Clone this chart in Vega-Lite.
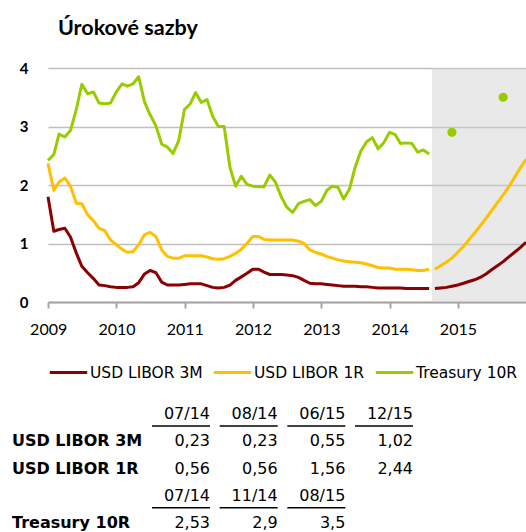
{
  "$schema": "https://vega.github.io/schema/vega-lite/v6.json",
  "background": "white",
  "padding": {"left": 12, "top": 17, "right": 0, "bottom": 0},
  "spacing": 20,
  "resolve": {"legend": {"color": "independent"}, "scale": {"color": "independent"}},
  "config": {
    "view": {"stroke": null},
    "title": {"font": "Lato", "fontSize": 21.5, "fontWeight": "bold", "color": "#000000"}
  },
  "datasets": {
    "hist": [
      {"d": "2008-12-31", "USD LIBOR 3M": 1.80, "USD LIBOR 1R": 2.37, "Treasury 10R": 2.42},
      {"d": "2009-01-31", "USD LIBOR 3M": 1.21, "USD LIBOR 1R": 1.91, "Treasury 10R": 2.52},
      {"d": "2009-02-28", "USD LIBOR 3M": 1.24, "USD LIBOR 1R": 2.05, "Treasury 10R": 2.87},
      {"d": "2009-03-31", "USD LIBOR 3M": 1.26, "USD LIBOR 1R": 2.12, "Treasury 10R": 2.82},
      {"d": "2009-04-30", "USD LIBOR 3M": 1.11, "USD LIBOR 1R": 1.98, "Treasury 10R": 2.93},
      {"d": "2009-05-31", "USD LIBOR 3M": 0.84, "USD LIBOR 1R": 1.69, "Treasury 10R": 3.29},
      {"d": "2009-06-30", "USD LIBOR 3M": 0.61, "USD LIBOR 1R": 1.68, "Treasury 10R": 3.72},
      {"d": "2009-07-31", "USD LIBOR 3M": 0.50, "USD LIBOR 1R": 1.49, "Treasury 10R": 3.56},
      {"d": "2009-08-31", "USD LIBOR 3M": 0.40, "USD LIBOR 1R": 1.39, "Treasury 10R": 3.59},
      {"d": "2009-09-30", "USD LIBOR 3M": 0.29, "USD LIBOR 1R": 1.26, "Treasury 10R": 3.40},
      {"d": "2009-10-31", "USD LIBOR 3M": 0.28, "USD LIBOR 1R": 1.22, "Treasury 10R": 3.39},
      {"d": "2009-11-30", "USD LIBOR 3M": 0.26, "USD LIBOR 1R": 1.06, "Treasury 10R": 3.40},
      {"d": "2009-12-31", "USD LIBOR 3M": 0.25, "USD LIBOR 1R": 0.98, "Treasury 10R": 3.59},
      {"d": "2010-01-31", "USD LIBOR 3M": 0.25, "USD LIBOR 1R": 0.90, "Treasury 10R": 3.73},
      {"d": "2010-02-28", "USD LIBOR 3M": 0.25, "USD LIBOR 1R": 0.85, "Treasury 10R": 3.69},
      {"d": "2010-03-31", "USD LIBOR 3M": 0.26, "USD LIBOR 1R": 0.86, "Treasury 10R": 3.73},
      {"d": "2010-04-30", "USD LIBOR 3M": 0.33, "USD LIBOR 1R": 0.98, "Treasury 10R": 3.85},
      {"d": "2010-05-31", "USD LIBOR 3M": 0.48, "USD LIBOR 1R": 1.15, "Treasury 10R": 3.42},
      {"d": "2010-06-30", "USD LIBOR 3M": 0.54, "USD LIBOR 1R": 1.19, "Treasury 10R": 3.20},
      {"d": "2010-07-31", "USD LIBOR 3M": 0.50, "USD LIBOR 1R": 1.12, "Treasury 10R": 3.01},
      {"d": "2010-08-31", "USD LIBOR 3M": 0.34, "USD LIBOR 1R": 0.89, "Treasury 10R": 2.70},
      {"d": "2010-09-30", "USD LIBOR 3M": 0.29, "USD LIBOR 1R": 0.78, "Treasury 10R": 2.65},
      {"d": "2010-10-31", "USD LIBOR 3M": 0.29, "USD LIBOR 1R": 0.75, "Treasury 10R": 2.54},
      {"d": "2010-11-30", "USD LIBOR 3M": 0.29, "USD LIBOR 1R": 0.75, "Treasury 10R": 2.76},
      {"d": "2010-12-31", "USD LIBOR 3M": 0.30, "USD LIBOR 1R": 0.79, "Treasury 10R": 3.29},
      {"d": "2011-01-31", "USD LIBOR 3M": 0.31, "USD LIBOR 1R": 0.79, "Treasury 10R": 3.39},
      {"d": "2011-02-28", "USD LIBOR 3M": 0.31, "USD LIBOR 1R": 0.79, "Treasury 10R": 3.58},
      {"d": "2011-03-31", "USD LIBOR 3M": 0.31, "USD LIBOR 1R": 0.79, "Treasury 10R": 3.41},
      {"d": "2011-04-30", "USD LIBOR 3M": 0.28, "USD LIBOR 1R": 0.77, "Treasury 10R": 3.46},
      {"d": "2011-05-31", "USD LIBOR 3M": 0.25, "USD LIBOR 1R": 0.74, "Treasury 10R": 3.17},
      {"d": "2011-06-30", "USD LIBOR 3M": 0.24, "USD LIBOR 1R": 0.73, "Treasury 10R": 3.00},
      {"d": "2011-07-31", "USD LIBOR 3M": 0.25, "USD LIBOR 1R": 0.74, "Treasury 10R": 3.00},
      {"d": "2011-08-31", "USD LIBOR 3M": 0.29, "USD LIBOR 1R": 0.78, "Treasury 10R": 2.30},
      {"d": "2011-09-30", "USD LIBOR 3M": 0.37, "USD LIBOR 1R": 0.83, "Treasury 10R": 1.98},
      {"d": "2011-10-31", "USD LIBOR 3M": 0.43, "USD LIBOR 1R": 0.90, "Treasury 10R": 2.15},
      {"d": "2011-11-30", "USD LIBOR 3M": 0.49, "USD LIBOR 1R": 1.00, "Treasury 10R": 2.01},
      {"d": "2011-12-31", "USD LIBOR 3M": 0.56, "USD LIBOR 1R": 1.12, "Treasury 10R": 1.98},
      {"d": "2012-01-31", "USD LIBOR 3M": 0.56, "USD LIBOR 1R": 1.12, "Treasury 10R": 1.97},
      {"d": "2012-02-29", "USD LIBOR 3M": 0.51, "USD LIBOR 1R": 1.07, "Treasury 10R": 1.97},
      {"d": "2012-03-31", "USD LIBOR 3M": 0.47, "USD LIBOR 1R": 1.06, "Treasury 10R": 2.17},
      {"d": "2012-04-30", "USD LIBOR 3M": 0.47, "USD LIBOR 1R": 1.06, "Treasury 10R": 2.05},
      {"d": "2012-05-31", "USD LIBOR 3M": 0.47, "USD LIBOR 1R": 1.06, "Treasury 10R": 1.80},
      {"d": "2012-06-30", "USD LIBOR 3M": 0.46, "USD LIBOR 1R": 1.06, "Treasury 10R": 1.62},
      {"d": "2012-07-31", "USD LIBOR 3M": 0.45, "USD LIBOR 1R": 1.06, "Treasury 10R": 1.53},
      {"d": "2012-08-31", "USD LIBOR 3M": 0.42, "USD LIBOR 1R": 1.04, "Treasury 10R": 1.68},
      {"d": "2012-09-30", "USD LIBOR 3M": 0.37, "USD LIBOR 1R": 1.00, "Treasury 10R": 1.72},
      {"d": "2012-10-31", "USD LIBOR 3M": 0.32, "USD LIBOR 1R": 0.89, "Treasury 10R": 1.75},
      {"d": "2012-11-30", "USD LIBOR 3M": 0.31, "USD LIBOR 1R": 0.85, "Treasury 10R": 1.65},
      {"d": "2012-12-31", "USD LIBOR 3M": 0.31, "USD LIBOR 1R": 0.82, "Treasury 10R": 1.72},
      {"d": "2013-01-31", "USD LIBOR 3M": 0.30, "USD LIBOR 1R": 0.78, "Treasury 10R": 1.91},
      {"d": "2013-02-28", "USD LIBOR 3M": 0.29, "USD LIBOR 1R": 0.75, "Treasury 10R": 1.98},
      {"d": "2013-03-31", "USD LIBOR 3M": 0.28, "USD LIBOR 1R": 0.72, "Treasury 10R": 1.96},
      {"d": "2013-04-30", "USD LIBOR 3M": 0.27, "USD LIBOR 1R": 0.70, "Treasury 10R": 1.76},
      {"d": "2013-05-31", "USD LIBOR 3M": 0.27, "USD LIBOR 1R": 0.69, "Treasury 10R": 1.93},
      {"d": "2013-06-30", "USD LIBOR 3M": 0.27, "USD LIBOR 1R": 0.68, "Treasury 10R": 2.30},
      {"d": "2013-07-31", "USD LIBOR 3M": 0.26, "USD LIBOR 1R": 0.67, "Treasury 10R": 2.58},
      {"d": "2013-08-31", "USD LIBOR 3M": 0.26, "USD LIBOR 1R": 0.65, "Treasury 10R": 2.74},
      {"d": "2013-09-30", "USD LIBOR 3M": 0.25, "USD LIBOR 1R": 0.62, "Treasury 10R": 2.81},
      {"d": "2013-10-31", "USD LIBOR 3M": 0.24, "USD LIBOR 1R": 0.59, "Treasury 10R": 2.62},
      {"d": "2013-11-30", "USD LIBOR 3M": 0.24, "USD LIBOR 1R": 0.58, "Treasury 10R": 2.72},
      {"d": "2013-12-31", "USD LIBOR 3M": 0.24, "USD LIBOR 1R": 0.58, "Treasury 10R": 2.90},
      {"d": "2014-01-31", "USD LIBOR 3M": 0.24, "USD LIBOR 1R": 0.56, "Treasury 10R": 2.86},
      {"d": "2014-02-28", "USD LIBOR 3M": 0.24, "USD LIBOR 1R": 0.56, "Treasury 10R": 2.71},
      {"d": "2014-03-31", "USD LIBOR 3M": 0.23, "USD LIBOR 1R": 0.56, "Treasury 10R": 2.72},
      {"d": "2014-04-30", "USD LIBOR 3M": 0.23, "USD LIBOR 1R": 0.55, "Treasury 10R": 2.71},
      {"d": "2014-05-31", "USD LIBOR 3M": 0.23, "USD LIBOR 1R": 0.54, "Treasury 10R": 2.56},
      {"d": "2014-06-30", "USD LIBOR 3M": 0.23, "USD LIBOR 1R": 0.54, "Treasury 10R": 2.60},
      {"d": "2014-07-31", "USD LIBOR 3M": 0.23, "USD LIBOR 1R": 0.56, "Treasury 10R": 2.53}
    ],
    "fcst": [
      {"d": "2014-08-31", "USD LIBOR 3M": 0.23, "USD LIBOR 1R": 0.56},
      {"d": "2014-09-30", "USD LIBOR 3M": 0.24, "USD LIBOR 1R": 0.62},
      {"d": "2014-10-31", "USD LIBOR 3M": 0.25, "USD LIBOR 1R": 0.68},
      {"d": "2014-11-30", "USD LIBOR 3M": 0.27, "USD LIBOR 1R": 0.75},
      {"d": "2014-12-31", "USD LIBOR 3M": 0.29, "USD LIBOR 1R": 0.85},
      {"d": "2015-01-31", "USD LIBOR 3M": 0.32, "USD LIBOR 1R": 0.95},
      {"d": "2015-02-28", "USD LIBOR 3M": 0.35, "USD LIBOR 1R": 1.06},
      {"d": "2015-03-31", "USD LIBOR 3M": 0.38, "USD LIBOR 1R": 1.18},
      {"d": "2015-04-30", "USD LIBOR 3M": 0.42, "USD LIBOR 1R": 1.30},
      {"d": "2015-05-31", "USD LIBOR 3M": 0.48, "USD LIBOR 1R": 1.43},
      {"d": "2015-06-30", "USD LIBOR 3M": 0.55, "USD LIBOR 1R": 1.56},
      {"d": "2015-07-31", "USD LIBOR 3M": 0.62, "USD LIBOR 1R": 1.70},
      {"d": "2015-08-31", "USD LIBOR 3M": 0.69, "USD LIBOR 1R": 1.83},
      {"d": "2015-09-30", "USD LIBOR 3M": 0.77, "USD LIBOR 1R": 1.97},
      {"d": "2015-10-31", "USD LIBOR 3M": 0.85, "USD LIBOR 1R": 2.13},
      {"d": "2015-11-30", "USD LIBOR 3M": 0.93, "USD LIBOR 1R": 2.29},
      {"d": "2015-12-31", "USD LIBOR 3M": 1.02, "USD LIBOR 1R": 2.44}
    ],
    "t10pts": [
      {"d": "2014-11-30", "series": "Treasury 10R", "value": 2.9},
      {"d": "2015-08-31", "series": "Treasury 10R", "value": 3.5}
    ],
    "table": [
      {"row": "h1", "col": "c1", "txt": "07/14"},
      {"row": "h1", "col": "c2", "txt": "08/14"},
      {"row": "h1", "col": "c3", "txt": "06/15"},
      {"row": "h1", "col": "c4", "txt": "12/15"},
      {"row": "r1", "col": "label", "txt": "USD LIBOR 3M"},
      {"row": "r1", "col": "c1", "txt": "0,23"},
      {"row": "r1", "col": "c2", "txt": "0,23"},
      {"row": "r1", "col": "c3", "txt": "0,55"},
      {"row": "r1", "col": "c4", "txt": "1,02"},
      {"row": "r2", "col": "label", "txt": "USD LIBOR 1R"},
      {"row": "r2", "col": "c1", "txt": "0,56"},
      {"row": "r2", "col": "c2", "txt": "0,56"},
      {"row": "r2", "col": "c3", "txt": "1,56"},
      {"row": "r2", "col": "c4", "txt": "2,44"},
      {"row": "h2", "col": "c1", "txt": "07/14"},
      {"row": "h2", "col": "c2", "txt": "11/14"},
      {"row": "h2", "col": "c3", "txt": "08/15"},
      {"row": "r3", "col": "label", "txt": "Treasury 10R"},
      {"row": "r3", "col": "c1", "txt": "2,53"},
      {"row": "r3", "col": "c2", "txt": "2,9"},
      {"row": "r3", "col": "c3", "txt": "3,5"}
    ]
  },
  "vconcat": [
    {
      "width": 478,
      "height": 234,
      "title": {"text": "Úrokové sazby", "anchor": "start", "frame": "group", "dx": 10, "offset": 22},
      "layer": [
        {
          "data": {"values": [{"start": "2014-08-15", "end": "2015-12-31"}]},
          "mark": {"type": "rect", "color": "#cfcfcf", "opacity": 0.45},
          "encoding": {
            "x": {
              "field": "start", "type": "temporal",
              "scale": {"type": "utc", "domain": [{"year": 2008, "month": 12, "date": 31, "utc": true}, {"year": 2015, "month": 12, "date": 31, "utc": true}]},
              "axis": {
                "title": null,
                "values": [
                  {"year": 2009, "month": 1, "date": 1, "utc": true},
                  {"year": 2010, "month": 1, "date": 1, "utc": true},
                  {"year": 2011, "month": 1, "date": 1, "utc": true},
                  {"year": 2012, "month": 1, "date": 1, "utc": true},
                  {"year": 2013, "month": 1, "date": 1, "utc": true},
                  {"year": 2014, "month": 1, "date": 1, "utc": true},
                  {"year": 2015, "month": 1, "date": 1, "utc": true}
                ],
                "labelExpr": "utcFormat(datum.value, '%Y')",
                "grid": false,
                "domainColor": "#A6A6A6", "domainWidth": 2,
                "tickColor": "#A6A6A6", "tickWidth": 2, "tickSize": 6,
                "labelFont": "Lato", "labelFontSize": 16, "labelColor": "#000000",
                "labelPadding": 13, "labelFlush": false, "labelOverlap": false
              }
            },
            "x2": {"field": "end"}
          }
        },
        {
          "data": {"name": "hist"},
          "transform": [{"fold": ["USD LIBOR 3M", "USD LIBOR 1R", "Treasury 10R"], "as": ["series", "value"]}],
          "mark": {"type": "line", "strokeWidth": 3, "strokeJoin": "round"},
          "encoding": {
            "x": {"field": "d", "type": "temporal"},
            "y": {
              "field": "value", "type": "quantitative",
              "scale": {"domain": [0, 4], "nice": false},
              "axis": {
                "title": null, "values": [0, 1, 2, 3, 4], "format": "d", "domain": false, "ticks": false,
                "grid": true, "gridColor": "#BFBFBF", "gridWidth": 1.5,
                "labelFont": "Lato", "labelFontSize": 15, "labelFontWeight": 700,
                "labelColor": "#000000", "labelPadding": 20
              }
            },
            "color": {
              "field": "series", "type": "nominal",
              "scale": {"domain": ["USD LIBOR 3M", "USD LIBOR 1R", "Treasury 10R"], "range": ["#8B0000", "#FFC000", "#99CC00"]},
              "legend": {
                "title": null, "orient": "bottom", "direction": "horizontal",
                "symbolType": "stroke", "symbolSize": 1400, "symbolStrokeWidth": 3,
                "labelFont": "DejaVu Sans", "labelFontSize": 15.5, "labelColor": "#000000",
                "labelOffset": 1, "columnPadding": 4, "offset": 15, "labelLimit": 300
              }
            }
          }
        },
        {
          "data": {"name": "fcst"},
          "transform": [{"fold": ["USD LIBOR 3M", "USD LIBOR 1R"], "as": ["series", "value"]}],
          "mark": {"type": "line", "strokeWidth": 3, "strokeJoin": "round"},
          "encoding": {
            "x": {"field": "d", "type": "temporal"},
            "y": {"field": "value", "type": "quantitative"},
            "color": {"field": "series", "type": "nominal"}
          }
        },
        {
          "data": {"name": "t10pts"},
          "mark": {"type": "point", "filled": true, "size": 85, "opacity": 1},
          "encoding": {
            "x": {"field": "d", "type": "temporal"},
            "y": {"field": "value", "type": "quantitative"},
            "color": {"field": "series", "type": "nominal"}
          }
        }
      ]
    },
    {
      "width": 400,
      "height": 120,
      "data": {"name": "table"},
      "resolve": {"scale": {"x": "independent"}},
      "layer": [
        {
          "transform": [{"filter": "datum.col == 'label'"}],
          "mark": {"type": "text", "align": "left", "baseline": "middle", "font": "DejaVu Sans", "fontSize": 16, "fontWeight": "bold", "color": "#000000"},
          "encoding": {
            "x": {"field": "col", "type": "nominal", "scale": {"type": "point", "domain": ["label"], "range": [-36, 0], "align": 0, "padding": 0}, "axis": null},
            "y": {"field": "row", "type": "nominal", "scale": {"type": "point", "domain": ["h1", "r1", "r2", "h2", "r3"], "range": [13, 122], "padding": 0}, "axis": null},
            "text": {"field": "txt"}
          }
        },
        {
          "transform": [{"filter": "datum.col != 'label'"}],
          "mark": {"type": "text", "align": "right", "baseline": "middle", "font": "DejaVu Sans", "fontSize": 16, "color": "#000000"},
          "encoding": {
            "x": {"field": "col", "type": "nominal", "scale": {"type": "point", "domain": ["c1", "c2", "c3", "c4"], "range": [162, 365], "padding": 0}, "axis": null},
            "y": {"field": "row", "type": "nominal", "scale": {"type": "point", "domain": ["h1", "r1", "r2", "h2", "r3"], "range": [13, 122], "padding": 0}, "axis": null},
            "text": {"field": "txt"}
          }
        },
        {
          "transform": [{"filter": "(datum.row == 'h1' || datum.row == 'h2') && datum.col != 'label'"}],
          "mark": {"type": "tick", "orient": "horizontal", "size": 58, "thickness": 1.5, "color": "#000000", "opacity": 1, "xOffset": -29, "yOffset": 12},
          "encoding": {
            "x": {"field": "col", "type": "nominal", "scale": {"type": "point", "domain": ["c1", "c2", "c3", "c4"], "range": [162, 365], "padding": 0}, "axis": null},
            "y": {"field": "row", "type": "nominal", "scale": {"type": "point", "domain": ["h1", "r1", "r2", "h2", "r3"], "range": [13, 122], "padding": 0}, "axis": null}
          }
        }
      ]
    }
  ]
}
